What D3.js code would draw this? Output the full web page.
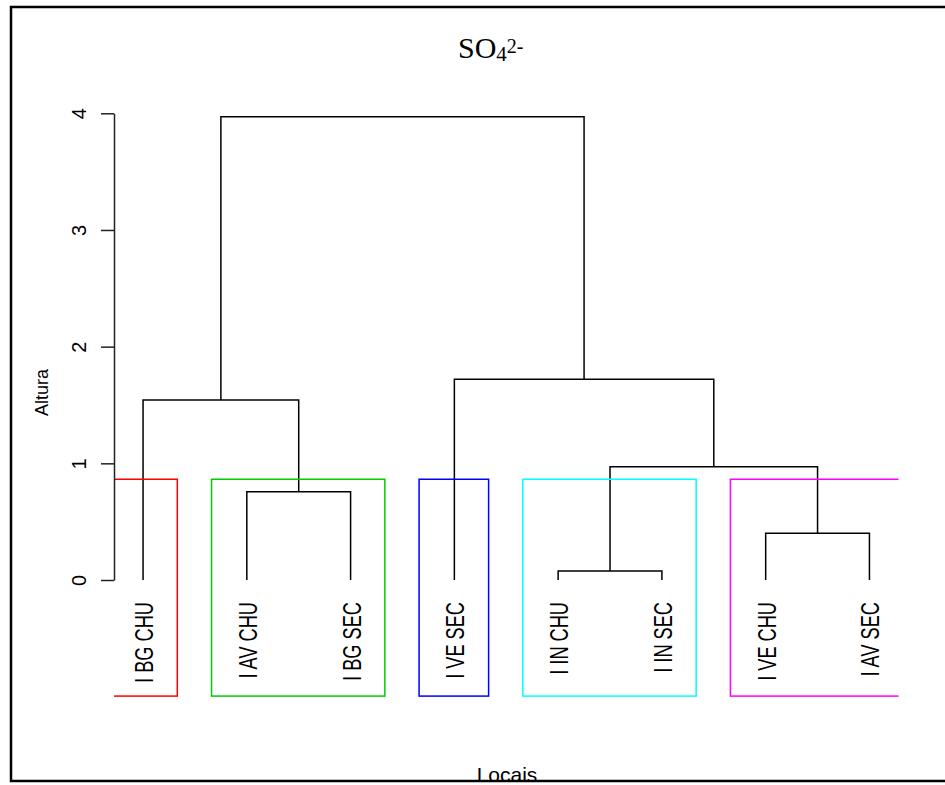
<html>
  <head>
    <style>
      body { margin: 0; background: #fff; }
      svg { display: block; }
      .axis .domain { stroke: #222; stroke-width: 1.5px; }
      .axis .tick line { stroke: #222; stroke-width: 1.5px; }
      .axis text { font-family: 'Liberation Sans', Arial, sans-serif; font-size: 20px; fill: #000; }
    </style>
  </head>
  <body>
    <div id="container"></div>
    <script src="https://cdnjs.cloudflare.com/ajax/libs/d3/7.8.5/d3.min.js"></script>
    <script>

    // leaves in plotted order
    var leafLabels = ["I BG CHU", "I AV CHU", "I BG SEC", "I VE SEC", "I IN CHU", "I IN SEC", "I VE CHU", "I AV SEC"];

    // merges (hclust style): node "m"+(i+1) joins left and right at height
    var mergeLeft   = ["I IN CHU", "I VE CHU", "I AV CHU", "m1",  "I BG CHU", "I VE SEC", "m5"];
    var mergeRight  = ["I IN SEC", "I AV SEC", "I BG SEC", "m2",  "m3",       "m4",       "m6"];
    var mergeHeight = [0.077,      0.40,       0.757,      0.97,  1.543,      1.72,       3.97];

    var yTicks = [0, 1, 2, 3, 4];
    var nClusters = 5;
    var boxColors = ["#FF0000", "#00CD00", "#0000FF", "#00FFFF", "#FF00FF"];

    var W = 945, H = 785;
    var plotLeft = 114, plotRight = 898.5;

    var svg = d3.select("#container")
                .append("svg")
                .attr("width", W)
                .attr("height", H);

    // leaf index 1..n, with R's 4% padding
    var n = leafLabels.length;
    var pad = (n - 1) * 0.04;
    var x = d3.scaleLinear()
        .domain([1 - pad, n + pad])
        .range([plotLeft, plotRight]);

    var y = d3.scaleLinear()
        .domain([0, 4])
        .range([580, 113.3]);

    // build node table
    var nodes = {};
    leafLabels.forEach(function(d, i) {
      nodes[d] = {name: d, x: i + 1, h: 0, leaves: [i + 1]};
    });
    mergeHeight.forEach(function(h, i) {
      var l = nodes[mergeLeft[i]], r = nodes[mergeRight[i]];
      nodes["m" + (i + 1)] = {
        name: "m" + (i + 1), x: (l.x + r.x) / 2, h: h,
        left: l, right: r, leaves: l.leaves.concat(r.leaves)
      };
    });
    var root = nodes["m" + mergeHeight.length];

    // clip for the cluster boxes (plot region)
    svg.append("clipPath").attr("id", "plotclip")
      .append("rect")
        .attr("x", plotLeft)
        .attr("y", 0)
        .attr("width", plotRight - plotLeft)
        .attr("height", H);

    svg.append("clipPath").attr("id", "frameclip")
      .append("rect")
        .attr("x", 11)
        .attr("y", 7)
        .attr("width", W)
        .attr("height", 773);

    var g = svg.append("g").attr("clip-path", "url(#frameclip)");

    // dendrogram segments
    g.append("g")
        .attr("fill", "none")
        .attr("stroke", "#000")
        .attr("stroke-width", 1.5)
      .selectAll("path")
      .data(mergeHeight.map(function(h, i) { return nodes["m" + (i + 1)]; }))
      .enter().append("path")
        .attr("d", function(d) {
          return "M" + x(d.left.x) + "," + y(d.left.h) +
                 "V" + y(d.h) +
                 "H" + x(d.right.x) +
                 "V" + y(d.right.h);
        });

    // rect.hclust: cut between k-1 and k
    var sorted = mergeHeight.slice().sort(function(a, b) { return b - a; });
    var cut = (sorted[nClusters - 2] + sorted[nClusters - 1]) / 2;
    var groups = [];
    (function walk(node) {
      if (node.left && node.h > cut) { walk(node.left); walk(node.right); }
      else groups.push(node.leaves);
    })(root);
    groups.sort(function(a, b) { return d3.min(a) - d3.min(b); });

    g.append("g")
        .attr("clip-path", "url(#plotclip)")
        .attr("fill", "none")
        .attr("stroke-width", 1.5)
      .selectAll("rect")
      .data(groups)
      .enter().append("rect")
        .attr("x", function(d) { return x(d3.min(d) - 0.34); })
        .attr("y", y(cut))
        .attr("width", function(d) { return x(d3.max(d) + 0.33) - x(d3.min(d) - 0.34); })
        .attr("height", y(-0.995) - y(cut))
        .attr("stroke", function(d, i) { return boxColors[i]; });

    // leaf labels
    g.append("g")
        .attr("font-family", "'Liberation Sans', Arial, sans-serif")
        .attr("font-size", 26)
        .attr("text-anchor", "end")
      .selectAll("text")
      .data(leafLabels)
      .enter().append("text")
        .attr("transform", function(d, i) {
          return "translate(" + (x(i + 1) + 10) + ",602) rotate(-90) scale(0.7,1)";
        })
        .text(function(d) { return d; });

    // y axis
    var axis = g.append("g")
        .attr("class", "axis")
        .attr("transform", "translate(" + plotLeft + ",0)")
        .call(d3.axisLeft(y).tickValues(yTicks).tickFormat(d3.format("d")).tickSize(13).tickSizeOuter(0));
    axis.selectAll(".tick text")
        .attr("x", null).attr("dy", null)
        .attr("text-anchor", "middle")
        .attr("transform", "translate(-28,0) rotate(-90)");

    // title SO4 2-
    var title = g.append("text")
        .attr("x", 458)
        .attr("y", 58)
        .attr("font-family", "'Liberation Serif', 'Times New Roman', serif")
        .attr("font-size", 30);
    title.append("tspan").text("SO");
    title.append("tspan").attr("font-size", 21).attr("dy", 3).text("4");
    title.append("tspan").attr("font-size", 20).attr("dy", -8).text("2-");

    // axis titles
    g.append("text")
        .attr("transform", "translate(47.5,392.5) rotate(-90)")
        .attr("text-anchor", "middle")
        .attr("font-family", "'Liberation Sans', Arial, sans-serif")
        .attr("font-size", 18)
        .text("Altura");

    g.append("text")
        .attr("x", 507)
        .attr("y", 782)
        .attr("text-anchor", "middle")
        .attr("font-family", "'Liberation Sans', Arial, sans-serif")
        .attr("font-size", 21)
        .text("Locais");

    // figure frame
    svg.append("rect")
        .attr("x", 11)
        .attr("y", 7)
        .attr("width", W)
        .attr("height", 774)
        .attr("fill", "none")
        .attr("stroke", "#000")
        .attr("stroke-width", 2.5);

    </script>
  </body>
</html>
